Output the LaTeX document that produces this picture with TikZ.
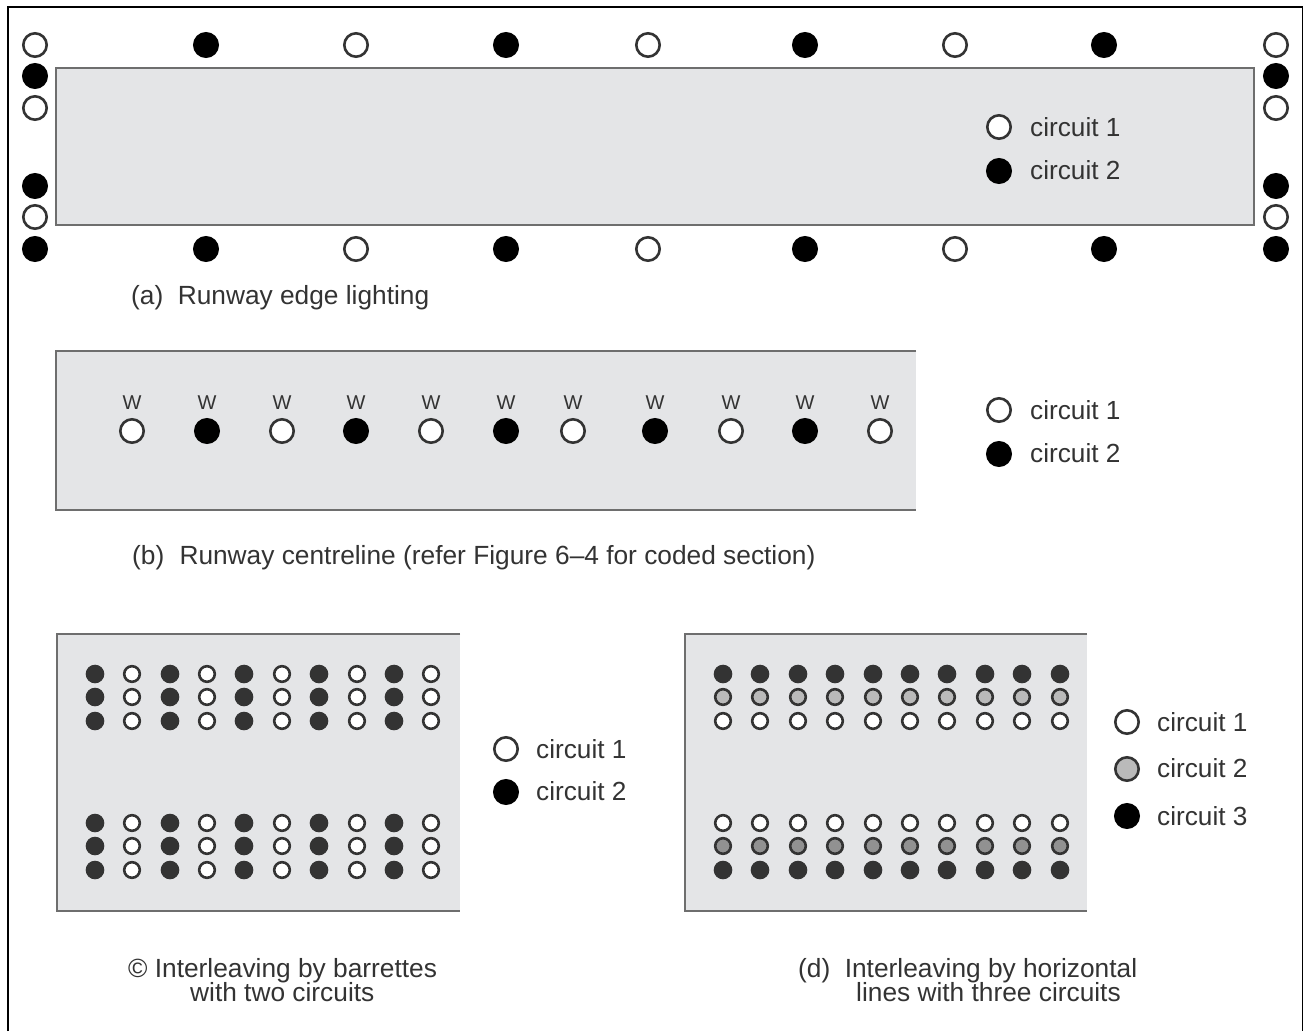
\documentclass[tikz,border=0pt]{standalone}
\usepackage{fontspec}
\setmainfont{Liberation Sans}
\definecolor{pad}{HTML}{E4E5E7}
\definecolor{padline}{HTML}{6E6E6E}
\definecolor{ink}{HTML}{333333}
\definecolor{dark}{HTML}{333333}
\tikzset{
  x=1pt,y=-1pt,
  lampopen/.style={circle,inner sep=0pt,outer sep=0pt,draw=ink,fill=white,line width=2.6pt,minimum size=23.4pt},
  lampfull/.style={circle,inner sep=0pt,outer sep=0pt,draw=black,fill=black,line width=2pt,minimum size=24pt},
  lampgrey/.style={circle,inner sep=0pt,outer sep=0pt,draw=ink,fill=black!27,line width=2.6pt,minimum size=23.4pt},
  dotopen/.style={circle,inner sep=0pt,outer sep=0pt,draw=ink,fill=white,line width=2.6pt,minimum size=15.6pt},
  dotfull/.style={circle,inner sep=0pt,outer sep=0pt,draw=dark,fill=dark,line width=1pt,minimum size=17.6pt},
  dotgreyA/.style={circle,inner sep=0pt,outer sep=0pt,draw=ink,fill=black!27,line width=2.6pt,minimum size=15.6pt},
  dotgreyB/.style={circle,inner sep=0pt,outer sep=0pt,draw=ink,fill=black!43,line width=2.6pt,minimum size=15.6pt},
  legtext/.style={anchor=west,inner sep=0pt,text=black!80,font=\fontsize{26.2}{26.2}\selectfont},
  captext/.style={anchor=west,inner sep=0pt,text=black!80,font=\fontsize{26.3}{26.3}\selectfont},
  wtext/.style={inner sep=0pt,text=black!80,font=\fontsize{20}{20}\selectfont},
  padfill/.style={fill=pad,draw=none},
  padedge/.style={draw=padline,line width=1.8pt},
  outerframe/.style={draw=black,line width=1.8pt}
}
\begin{document}
\begin{tikzpicture}
\useasboundingbox (0,0) rectangle (1304,1031);
\fill[white] (0,0) rectangle (1304,1031);
% outer frame
\draw[outerframe] (8,1031) -- (8,7) -- (1302.5,7) -- (1302.5,1031);
% panel (a)
\path[padfill] (56,68) rectangle (1254,225);
\draw[padedge] (56,68) rectangle (1254,225);
\foreach \n/\px/\py/\st in {
  t1/35/45/lampopen,t2/206/45/lampfull,t3/356/45/lampopen,t4/506/45/lampfull,t5/648/45/lampopen,t6/805/45/lampfull,t7/955/45/lampopen,t8/1104/45/lampfull,t9/1276/45/lampopen,
  b1/35/249/lampfull,b2/206/249/lampfull,b3/356/249/lampopen,b4/506/249/lampfull,b5/648/249/lampopen,b6/805/249/lampfull,b7/955/249/lampopen,b8/1104/249/lampfull,b9/1276/249/lampfull,
  l1/35/76/lampfull,l2/35/108/lampopen,l3/35/186/lampfull,l4/35/217/lampopen,
  r1/1276/76/lampfull,r2/1276/108/lampopen,r3/1276/186/lampfull,r4/1276/217/lampopen}
  \node[\st] (a\n) at (\px,\py) {};
\node[lampopen] (aleg1) at (999,127) {};
\node[lampfull] (aleg2) at (999,171) {};
\node[legtext] (alab1) at (1030,127) {circuit 1};
\node[legtext] (alab2) at (1030,170) {circuit 2};
\node[captext] (acap) at (131,298) {(a)\hspace{0.55em}Runway edge lighting};
% panel (b)
\path[padfill] (56,351) rectangle (916,510);
\draw[padedge] (916,351) -- (56,351) -- (56,510) -- (916,510);
\foreach \n/\px/\st in {1/132/lampopen,2/207/lampfull,3/282/lampopen,4/356/lampfull,5/431/lampopen,6/506/lampfull,7/573/lampopen,8/655/lampfull,9/731/lampopen,10/805/lampfull,11/880/lampopen}{
  \node[\st] (bl\n) at (\px,431) {};
  \node[wtext] (bw\n) at (\px,403) {W};
}
\node[lampopen] (bleg1) at (999,410) {};
\node[lampfull] (bleg2) at (999,454) {};
\node[legtext] (blab1) at (1030,410) {circuit 1};
\node[legtext] (blab2) at (1030,453) {circuit 2};
\node[captext] (bcap) at (132,558) {(b)\hspace{0.3em} Runway centreline (refer Figure 6–4 for coded section)};
% panel (c)
\path[padfill] (57,634) rectangle (460,911);
\draw[padedge] (460,634) -- (57,634) -- (57,911) -- (460,911);
\foreach \i/\px/\st in {1/95/dotfull,2/132/dotopen,3/170/dotfull,4/207/dotopen,5/244/dotfull,6/282/dotopen,7/319/dotfull,8/357/dotopen,9/394/dotfull,10/431/dotopen}
  \foreach \j/\py in {1/674,2/697,3/721,4/823,5/846,6/870}
    \node[\st] (c\i-\j) at (\px,\py) {};
\node[lampopen] (cleg1) at (506,749) {};
\node[lampfull] (cleg2) at (506,792) {};
\node[legtext] (clab1) at (536,749) {circuit 1};
\node[legtext] (clab2) at (536,791) {circuit 2};
\node[captext] (ccap1) at (128,971) {© Interleaving by barrettes};
\node[captext] (ccap2) at (190,992) {with two circuits};
% panel (d)
\path[padfill] (685,634) rectangle (1087,911);
\draw[padedge] (1087,634) -- (685,634) -- (685,911) -- (1087,911);
\foreach \i/\px in {1/723,2/760,3/798,4/835,5/873,6/910,7/947,8/985,9/1022,10/1060}{
  \node[dotfull] (d\i-1) at (\px,674) {};
  \node[dotgreyA] (d\i-2) at (\px,697) {};
  \node[dotopen] (d\i-3) at (\px,721) {};
  \node[dotopen] (d\i-4) at (\px,823) {};
  \node[dotgreyB] (d\i-5) at (\px,846) {};
  \node[dotfull] (d\i-6) at (\px,870) {};
}
\node[lampopen] (dleg1) at (1127,722) {};
\node[lampgrey] (dleg2) at (1127,769) {};
\node[lampfull] (dleg3) at (1127,816) {};
\node[legtext] (dlab1) at (1157,722) {circuit 1};
\node[legtext] (dlab2) at (1157,768) {circuit 2};
\node[legtext] (dlab3) at (1157,816) {circuit 3};
\node[captext] (dcap1) at (798,971) {(d)\hspace{0.55em}Interleaving by horizontal};
\node[captext] (dcap2) at (856,992) {lines with three circuits};
\end{tikzpicture}
\end{document}
